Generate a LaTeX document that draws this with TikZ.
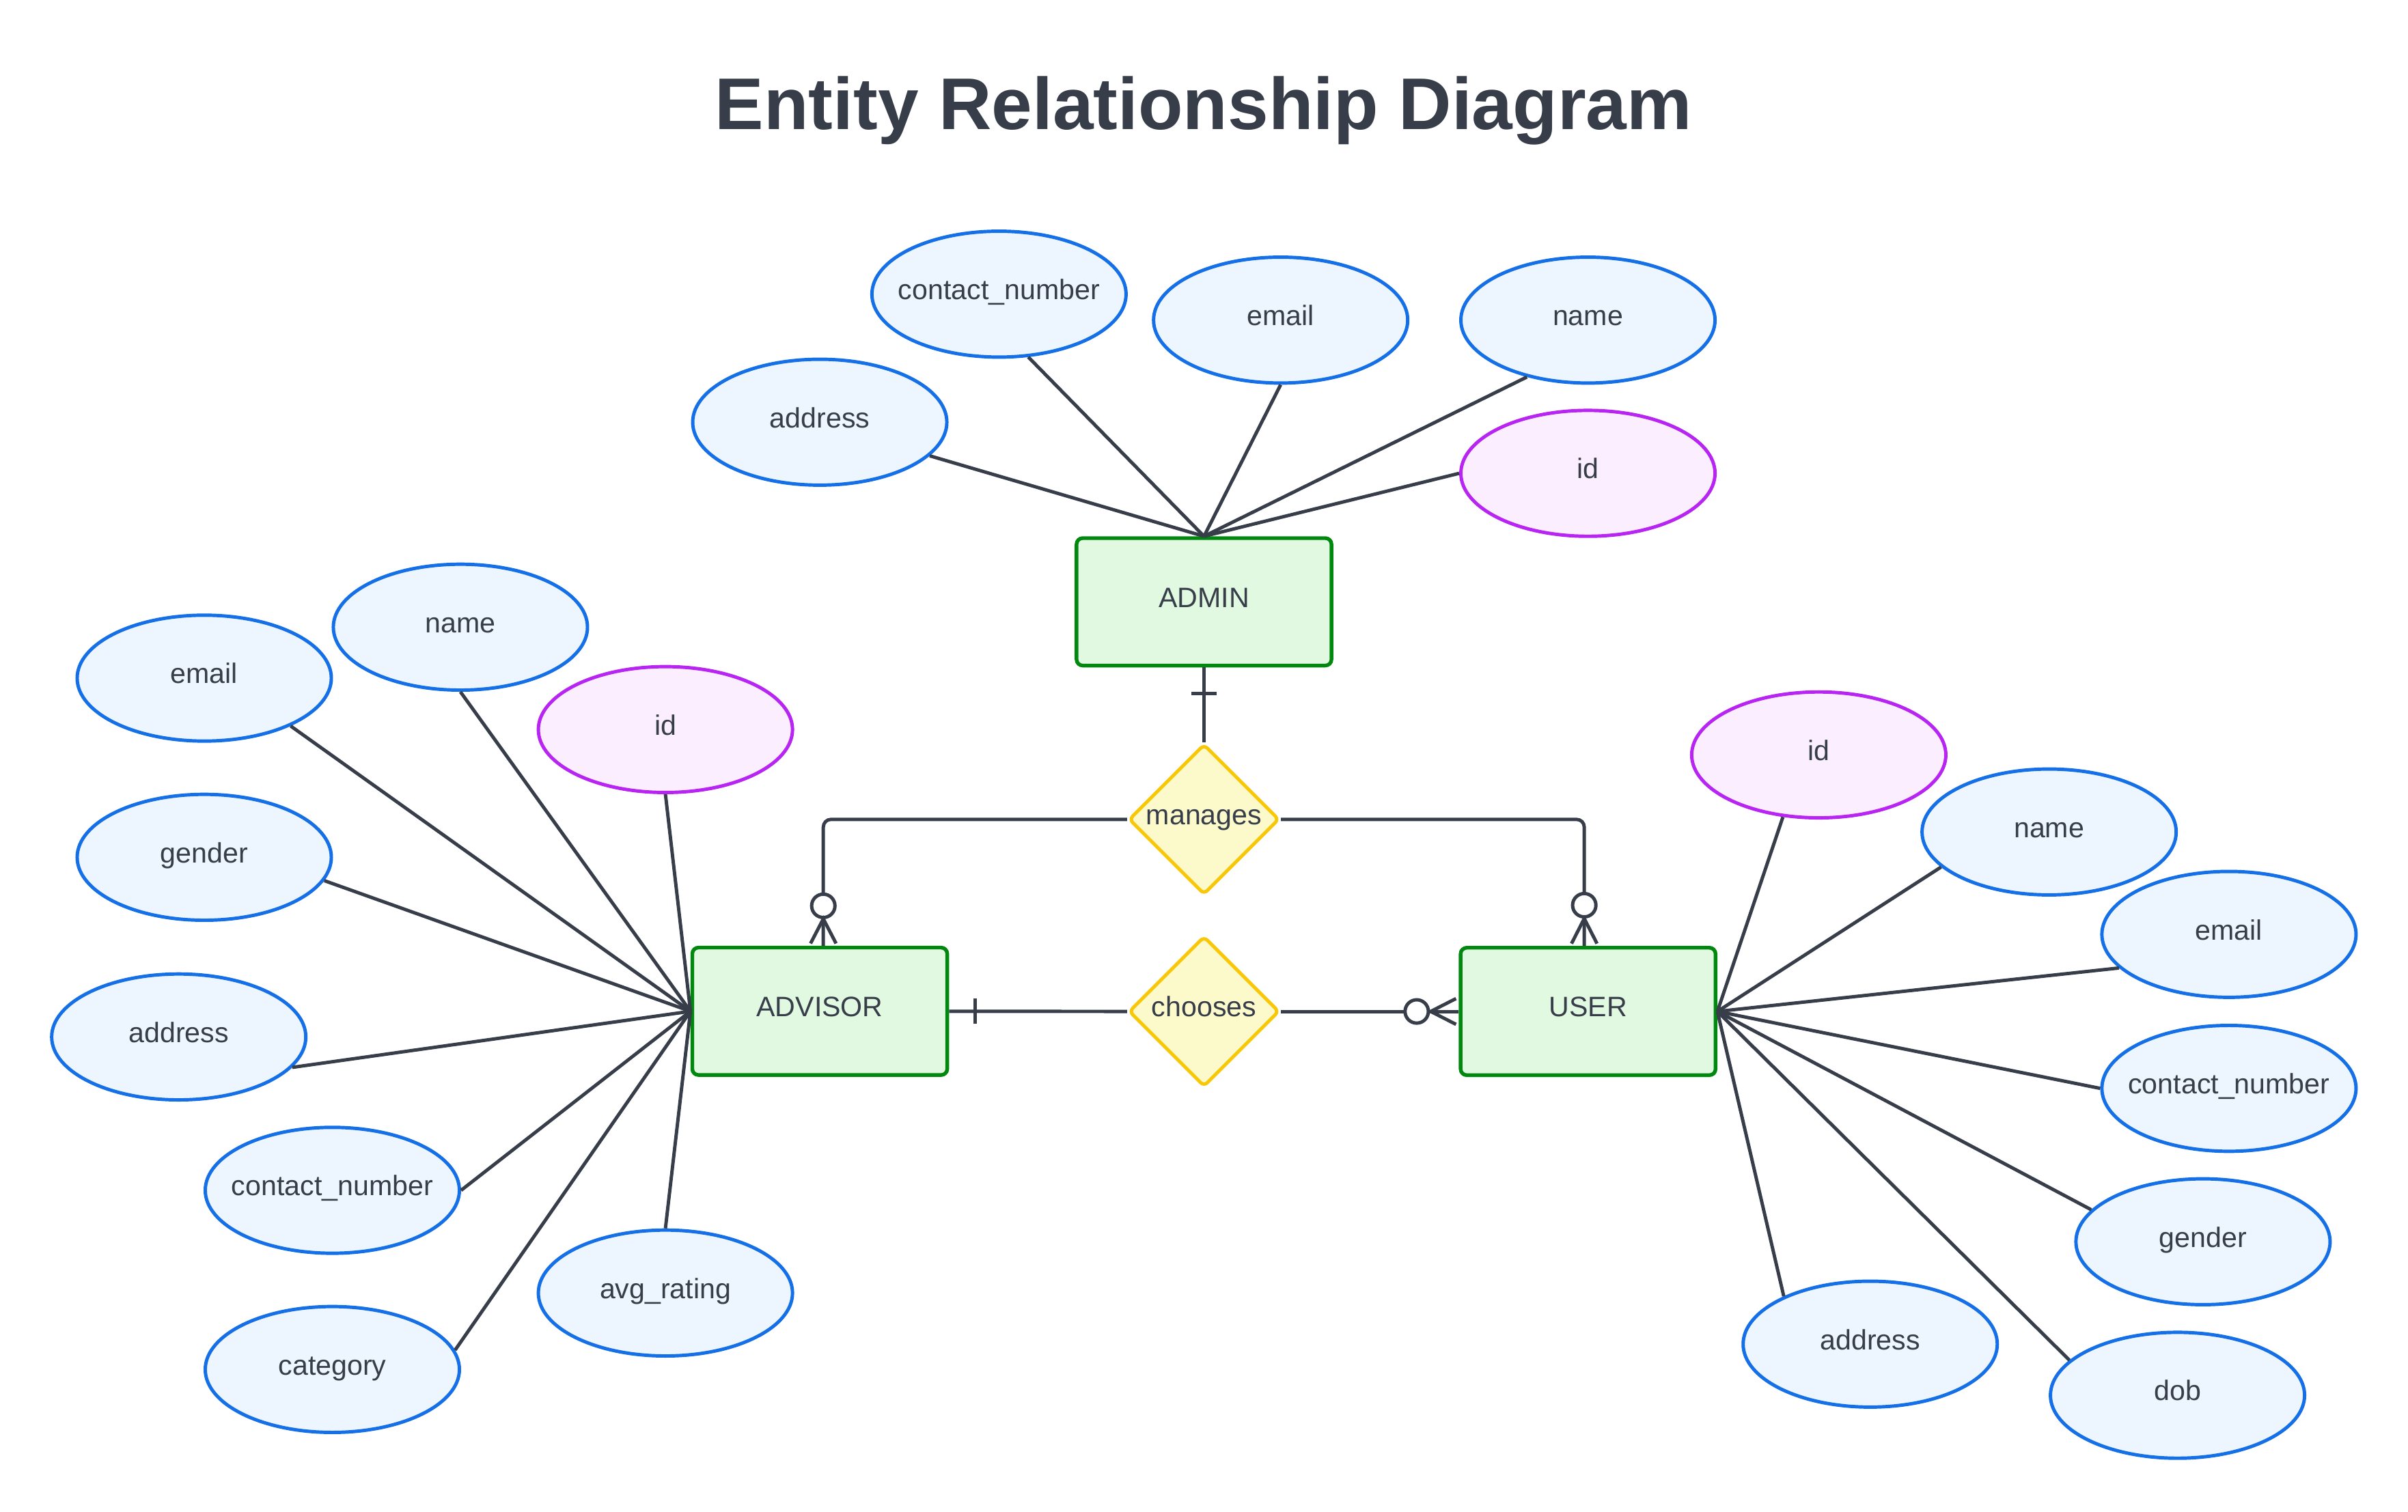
\documentclass[tikz,border=0pt]{standalone}
\usepackage{fontspec}
\setmainfont{Liberation Sans}
\usetikzlibrary{shapes.geometric,calc}
\definecolor{ink}{HTML}{373E49}
\definecolor{entfill}{HTML}{E1F9E1}
\definecolor{entline}{HTML}{00890E}
\definecolor{attfill}{HTML}{EDF5FF}
\definecolor{attline}{HTML}{1570E8}
\definecolor{keyfill}{HTML}{FBEEFF}
\definecolor{keyline}{HTML}{B824F2}
\definecolor{relfill}{HTML}{FCFACB}
\definecolor{relline}{HTML}{F8C808}
\newcommand\lblfont{\fontsize{18.3}{22}\selectfont}
\newcommand\ttlfont{\fontsize{47.7}{56}\selectfont\bfseries}
\newcommand\wide[1]{\makebox[0pt][c]{#1}}
\begin{document}
\begin{tikzpicture}[x=1pt,y=-1pt,
  lbl/.style={text=ink,font=\lblfont,text height=13.1pt,text depth=6.1pt,inner sep=0pt},
  entity/.style={lbl,rectangle,draw=entline,fill=entfill,line width=2.4pt,rounded corners=4pt,minimum width=166pt,minimum height=83pt},
  attr/.style={lbl,ellipse,draw=attline,fill=attfill,line width=2.2pt,minimum width=165.5pt,minimum height=82pt},
  keyattr/.style={attr,draw=keyline,fill=keyfill},
  rel/.style={lbl,diamond,draw=relline,fill=relfill,line width=2.2pt,minimum width=98pt,minimum height=98pt,aspect=1,rounded corners=3pt},
  link/.style={draw=ink,line width=2.2pt}]
\useasboundingbox (0,0) rectangle (1568,984.4);

\node[anchor=base,text=ink,font=\ttlfont,inner sep=0pt] (title) at (783.7,84.5) {Entity Relationship Diagram};

% entities and relationships
\node[entity] (admin) at (784,392) {ADMIN};
\node[entity] (advisor) at (533.8,658.7) {ADVISOR};
\node[entity] (user) at (1034.1,658.8) {USER};
\node[rel] (manages) at (784,533.7) {manages};
\node[rel] (chooses) at (784,658.8) {chooses};

% ADMIN attributes
\node[attr] (adaddr) at (533.8,275) {address};
\node[attr] (adcn) at (650.5,191.6) {\wide{contact\_number}};
\node[attr] (ademail) at (833.9,208.5) {email};
\node[attr] (adname) at (1034,208.5) {name};
\node[keyattr] (adid) at (1034,308.3) {id};

% ADVISOR attributes
\node[attr] (avemail) at (133,441.7) {email};
\node[attr] (avname) at (299.8,408.5) {name};
\node[keyattr] (avid) at (433.3,475.2) {id};
\node[attr] (avgender) at (133,558.4) {gender};
\node[attr] (avaddr) at (116.4,675.4) {address};
\node[attr] (avcn) at (216.4,775.3) {\wide{contact\_number}};
\node[attr] (avrating) at (433.3,842.2) {avg\_rating};
\node[attr] (avcat) at (216.4,892) {category};

% USER attributes
\node[keyattr] (usid) at (1184.3,491.7) {id};
\node[attr] (usname) at (1334.3,541.9) {name};
\node[attr] (usemail) at (1451.4,608.6) {email};
\node[attr] (uscn) at (1451.4,708.9) {\wide{contact\_number}};
\node[attr] (usgender) at (1434.5,808.8) {gender};
\node[attr] (usaddr) at (1217.8,875.5) {address};
\node[attr] (usdob) at (1417.9,908.8) {dob};

% attribute links
\draw[link] (admin.north) -- (adaddr.-17);
\draw[link] (admin.north) -- (adcn.-65);
\draw[link] (admin.north) -- (ademail.south);
\draw[link] (admin.north) -- (adname.-137);
\draw[link] (admin.north) -- (adid.west);

\draw[link] (advisor.west) -- (avemail.-29);
\draw[link] (advisor.west) -- (avname.south);
\draw[link] (advisor.west) -- (avid.south);
\draw[link] (advisor.west) -- (avgender.-11.4);
\draw[link] (advisor.west) -- (avaddr.-15.9);
\draw[link] (advisor.west) -- (avcn.east);
\draw[link] (advisor.west) -- (avcat.9);
\draw[link] (advisor.west) -- (avrating.north);

\draw[link] (user.east) -- (usid.-120);
\draw[link] (user.east) -- (usname.-162);
\draw[link] (user.east) -- (usemail.-163);
\draw[link] (user.east) -- (uscn.west);
\draw[link] (user.east) -- (usgender.164);
\draw[link] (user.east) -- (usaddr.151);
\draw[link] (user.east) -- (usdob.162);

% relationship links
\coordinate (advtop) at ($(advisor.north)+(2.3,0)$);
\coordinate (usrtop) at ($(user.north)+(-2.5,0)$);

\draw[link] (admin.south) -- (manages.north);
\draw[link] ($(admin.south)+(-8.3,17)$) -- ($(admin.south)+(8.3,17)$);

\draw[link,rounded corners=5pt] (manages.west) -| (advtop);
\draw[link,fill=white] ($(advtop)+(0,-26)$) circle[radius=7.6];
\draw[link] ($(advtop)+(-8.3,-1.5)$) -- ($(advtop)+(0,-17.5)$) -- ($(advtop)+(8.3,-1.5)$);

\draw[link,rounded corners=5pt] (manages.east) -| (usrtop);
\draw[link,fill=white] ($(usrtop)+(0,-26.5)$) circle[radius=7.6];
\draw[link] ($(usrtop)+(-8.3,-1.5)$) -- ($(usrtop)+(0,-17.8)$) -- ($(usrtop)+(8.3,-1.5)$);

\draw[link] (advisor.east) -- (chooses.west);
\draw[link] ($(advisor.east)+(17,-8.3)$) -- ($(advisor.east)+(17,8.3)$);

\draw[link] (chooses.east) -- (user.west);
\draw[link,fill=white] ($(user.west)+(-27.4,0)$) circle[radius=7.6];
\draw[link] ($(user.west)+(-1.8,-8.4)$) -- ($(user.west)+(-18.3,0)$) -- ($(user.west)+(-1.8,8.4)$);
\end{tikzpicture}
\end{document}
